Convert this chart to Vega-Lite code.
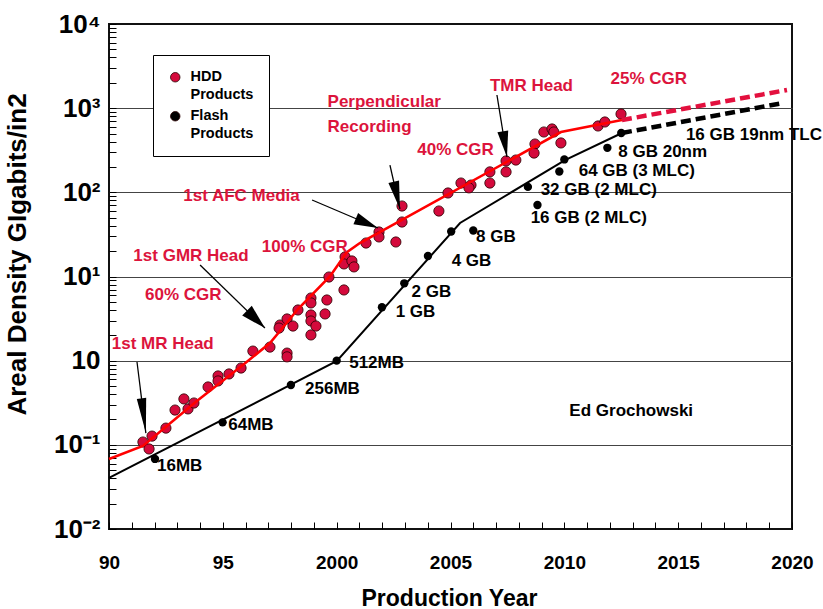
{
  "$schema": "https://vega.github.io/schema/vega-lite/v6.json",
  "width": 683,
  "height": 505,
  "autosize": {"type": "none"},
  "padding": {"left": 109, "top": 24, "right": 31, "bottom": 80},
  "background": "white",
  "config": {
    "font": "Liberation Sans",
    "view": {"stroke": "#111", "strokeWidth": 2}
  },
  "datasets": {
    "hdd": [
      {"year": 1991.49, "value": 0.108, "series": "HDD"},
      {"year": 1991.76, "value": 0.0893, "series": "HDD"},
      {"year": 1991.89, "value": 0.127, "series": "HDD"},
      {"year": 1992.5, "value": 0.158, "series": "HDD"},
      {"year": 1992.9, "value": 0.259, "series": "HDD"},
      {"year": 1993.29, "value": 0.351, "series": "HDD"},
      {"year": 1993.47, "value": 0.267, "series": "HDD"},
      {"year": 1993.73, "value": 0.314, "series": "HDD"},
      {"year": 1994.35, "value": 0.487, "series": "HDD"},
      {"year": 1994.79, "value": 0.658, "series": "HDD"},
      {"year": 1994.79, "value": 0.574, "series": "HDD"},
      {"year": 1995.27, "value": 0.695, "series": "HDD"},
      {"year": 1995.8, "value": 0.818, "series": "HDD"},
      {"year": 1996.32, "value": 1.3, "series": "HDD"},
      {"year": 1997.07, "value": 1.45, "series": "HDD"},
      {"year": 1997.82, "value": 1.23, "series": "HDD"},
      {"year": 1997.82, "value": 1.11, "series": "HDD"},
      {"year": 1997.51, "value": 2.65, "series": "HDD"},
      {"year": 1997.47, "value": 2.44, "series": "HDD"},
      {"year": 1997.82, "value": 3.13, "series": "HDD"},
      {"year": 1998.08, "value": 2.58, "series": "HDD"},
      {"year": 1998.3, "value": 4.0, "series": "HDD"},
      {"year": 1998.87, "value": 5.55, "series": "HDD"},
      {"year": 1998.87, "value": 4.85, "series": "HDD"},
      {"year": 1998.87, "value": 3.49, "series": "HDD"},
      {"year": 1998.87, "value": 2.96, "series": "HDD"},
      {"year": 1999.09, "value": 2.58, "series": "HDD"},
      {"year": 1998.87, "value": 2.02, "series": "HDD"},
      {"year": 1999.49, "value": 3.59, "series": "HDD"},
      {"year": 1999.57, "value": 5.26, "series": "HDD"},
      {"year": 1999.66, "value": 9.86, "series": "HDD"},
      {"year": 2000.32, "value": 6.92, "series": "HDD"},
      {"year": 2000.37, "value": 17.1, "series": "HDD"},
      {"year": 2000.32, "value": 14.1, "series": "HDD"},
      {"year": 2000.67, "value": 15.3, "series": "HDD"},
      {"year": 2000.76, "value": 13.0, "series": "HDD"},
      {"year": 2001.29, "value": 25.0, "series": "HDD"},
      {"year": 2001.86, "value": 33.8, "series": "HDD"},
      {"year": 2001.86, "value": 29.5, "series": "HDD"},
      {"year": 2002.6, "value": 25.7, "series": "HDD"},
      {"year": 2002.87, "value": 68.8, "series": "HDD"},
      {"year": 2002.87, "value": 44.4, "series": "HDD"},
      {"year": 2004.49, "value": 60.0, "series": "HDD"},
      {"year": 2004.89, "value": 98.2, "series": "HDD"},
      {"year": 2005.46, "value": 129, "series": "HDD"},
      {"year": 2005.9, "value": 122, "series": "HDD"},
      {"year": 2005.81, "value": 113, "series": "HDD"},
      {"year": 2006.73, "value": 175, "series": "HDD"},
      {"year": 2006.73, "value": 129, "series": "HDD"},
      {"year": 2007.44, "value": 236, "series": "HDD"},
      {"year": 2007.44, "value": 175, "series": "HDD"},
      {"year": 2007.87, "value": 242, "series": "HDD"},
      {"year": 2008.71, "value": 375, "series": "HDD"},
      {"year": 2008.67, "value": 293, "series": "HDD"},
      {"year": 2009.1, "value": 521, "series": "HDD"},
      {"year": 2009.46, "value": 566, "series": "HDD"},
      {"year": 2009.54, "value": 521, "series": "HDD"},
      {"year": 2009.85, "value": 386, "series": "HDD"},
      {"year": 2011.48, "value": 614, "series": "HDD"},
      {"year": 2011.78, "value": 685, "series": "HDD"},
      {"year": 2012.49, "value": 853, "series": "HDD"}
    ],
    "flash": [
      {"year": 1992.02, "value": 0.068, "series": "Flash"},
      {"year": 1994.99, "value": 0.185, "series": "Flash"},
      {"year": 1997.99, "value": 0.514, "series": "Flash"},
      {"year": 2000.0, "value": 1.0, "series": "Flash"},
      {"year": 2001.99, "value": 4.31, "series": "Flash"},
      {"year": 2002.97, "value": 8.3, "series": "Flash"},
      {"year": 2004.01, "value": 17.5, "series": "Flash"},
      {"year": 2005.03, "value": 34.3, "series": "Flash"},
      {"year": 2006.0, "value": 35.2, "series": "Flash"},
      {"year": 2008.4, "value": 116, "series": "Flash"},
      {"year": 2008.82, "value": 70.7, "series": "Flash"},
      {"year": 2010.0, "value": 246, "series": "Flash"},
      {"year": 2009.78, "value": 177, "series": "Flash"},
      {"year": 2011.89, "value": 338, "series": "Flash"},
      {"year": 2012.5, "value": 507, "series": "Flash"}
    ],
    "hddTrend": [
      {"year": 1990, "value": 0.0679},
      {"year": 1991.49, "value": 0.0969},
      {"year": 1993.86, "value": 0.332},
      {"year": 1995.88, "value": 0.889},
      {"year": 1997.07, "value": 1.62},
      {"year": 1997.51, "value": 2.25},
      {"year": 1998.3, "value": 4.11},
      {"year": 1999.71, "value": 10.1},
      {"year": 2000.45, "value": 19.5},
      {"year": 2001.02, "value": 25.0},
      {"year": 2009.85, "value": 521},
      {"year": 2012.53, "value": 723}
    ],
    "hddProj": [
      {"year": 2012.53, "value": 723},
      {"year": 2019.78, "value": 1643}
    ],
    "flashTrend": [
      {"year": 1990, "value": 0.0404},
      {"year": 2000.01, "value": 0.991},
      {"year": 2005.42, "value": 43.2},
      {"year": 2010.03, "value": 242},
      {"year": 2012.53, "value": 507}
    ],
    "flashProj": [
      {"year": 2012.53, "value": 507},
      {"year": 2019.6, "value": 1152}
    ],
    "redLabels": [
      {"year": 1990.12, "value": 1.567, "label": "1st MR Head"},
      {"year": 1991.58, "value": 6.03, "label": "60% CGR"},
      {"year": 1991.07, "value": 17.5, "label": "1st GMR Head"},
      {"year": 1996.71, "value": 22.2, "label": "100% CGR"},
      {"year": 1993.26, "value": 90.5, "label": "1st AFC Media"},
      {"year": 1999.6, "value": 1194, "label": "Perpendicular"},
      {"year": 1999.6, "value": 593, "label": "Recording"},
      {"year": 2003.54, "value": 318, "label": "40% CGR"},
      {"year": 2006.73, "value": 1834, "label": "TMR Head"},
      {"year": 2012.03, "value": 2200, "label": "25% CGR"}
    ],
    "blackLabels": [
      {"year": 1992.11, "value": 0.0561, "label": "16MB"},
      {"year": 1995.24, "value": 0.172, "label": "64MB"},
      {"year": 1998.61, "value": 0.457, "label": "256MB"},
      {"year": 2000.55, "value": 0.931, "label": "512MB"},
      {"year": 2002.59, "value": 3.82, "label": "1 GB"},
      {"year": 2003.29, "value": 6.6, "label": "2 GB"},
      {"year": 2005.05, "value": 15.3, "label": "4 GB"},
      {"year": 2006.12, "value": 29.7, "label": "8 GB"},
      {"year": 2008.52, "value": 49.2, "label": "16 GB (2 MLC)"},
      {"year": 2008.96, "value": 107, "label": "32 GB (2 MLC)"},
      {"year": 2010.63, "value": 181, "label": "64 GB (3 MLC)"},
      {"year": 2012.37, "value": 299, "label": "8 GB 20nm"},
      {"year": 2015.34, "value": 486, "label": "16 GB 19nm TLC"},
      {"year": 2010.22, "value": 0.255, "label": "Ed Grochowski"}
    ],
    "arrows": [
      {"id": "mr", "year": 1991.62, "value": 0.138, "year2": 1991.23, "value2": 0.964},
      {"id": "gmr", "year": 1996.85, "value": 2.44, "year2": 1994.0, "value2": 13.7},
      {"id": "afc", "year": 2001.81, "value": 37.7, "year2": 1998.92, "value2": 81.1},
      {"id": "perp", "year": 2002.78, "value": 63.4, "year2": 2002.34, "value2": 211},
      {"id": "tmr", "year": 2007.48, "value": 263, "year2": 2007.04, "value2": 1433}
    ]
  },
  "encoding": {
    "x": {
      "field": "year",
      "type": "quantitative",
      "scale": {"domain": [1990, 2020], "nice": false, "zero": false},
      "axis": {
        "values": [1990,1991,1992,1993,1994,1995,1996,1997,1998,1999,2000,2001,2002,2003,2004,2005,2006,2007,2008,2009,2010,2011,2012,2013,2014,2015,2016,2017,2018,2019,2020],
        "labelExpr": "datum.value == 1990 ? '90' : datum.value == 1995 ? '95' : (datum.value % 5 == 0 ? '' + datum.value : '')",
        "labelFont": "Liberation Sans",
        "labelFontSize": 19,
        "labelFontWeight": "bold",
        "labelColor": "black",
        "labelOverlap": false,
        "labelFlush": false,
        "labelBaseline": "middle",
        "labelPadding": 33,
        "offset": -7,
        "ticks": true,
        "tickSize": 7,
        "tickColor": "black",
        "tickWidth": 1,
        "domain": false,
        "grid": false,
        "title": "Production Year",
        "titleFont": "Liberation Sans",
        "titleFontSize": 23,
        "titleFontWeight": "bold",
        "titleColor": "black",
        "titleX": 340,
        "titleY": 76,
        "titleBaseline": "middle",
        "titleAlign": "center"
      }
    },
    "y": {
      "field": "value",
      "type": "quantitative",
      "scale": {"type": "log", "domain": [0.01, 10000], "nice": false},
      "axis": {
        "values": [0.01,0.02,0.03,0.04,0.05,0.06,0.07,0.08,0.09,0.1,0.2,0.3,0.4,0.5,0.6,0.7,0.8,0.9,1,2,3,4,5,6,7,8,9,10,20,30,40,50,60,70,80,90,100,200,300,400,500,600,700,800,900,1000,2000,3000,4000,5000,6000,7000,8000,9000,10000],
        "labelExpr": "datum.value == 10000 ? '10⁴' : datum.value == 1000 ? '10³' : datum.value == 100 ? '10²' : datum.value == 10 ? '10¹' : datum.value == 1 ? '10' : datum.value == 0.1 ? '10⁻¹' : datum.value == 0.01 ? '10⁻²' : ''",
        "labelFont": "Liberation Sans",
        "labelFontSize": 26,
        "labelFontWeight": "bold",
        "labelColor": "black",
        "labelOverlap": false,
        "labelFlush": false,
        "labelBaseline": "middle",
        "labelPadding": 9,
        "offset": -7,
        "ticks": true,
        "tickSize": 7,
        "tickColor": "black",
        "tickWidth": 1,
        "domain": false,
        "grid": true,
        "gridColor": {"condition": {"test": "indexof([0.1,1,10,100,1000], datum.value) >= 0", "value": "#444"}, "value": "rgba(0,0,0,0)"},
        "gridWidth": 1.2,
        "title": "Areal Density GIgabits/in2",
        "titleFont": "Liberation Sans",
        "titleFontSize": 26,
        "titleFontWeight": "bold",
        "titleColor": "black",
        "titleAngle": -90,
        "titleX": -99,
        "titleY": 230,
        "titleBaseline": "middle",
        "titleAlign": "center"
      }
    }
  },
  "layer": [
    {
      "data": {"name": "hdd"},
      "mark": {"type": "point", "shape": "circle", "filled": true, "opacity": 1, "size": 105, "stroke": "#2a0000", "strokeWidth": 0.8},
      "encoding": {
        "color": {
          "field": "series",
          "type": "nominal",
          "scale": {"domain": ["HDD", "Flash"], "range": ["#D40A3C", "#000000"]},
          "legend": {
            "orient": "none",
            "legendX": 44,
            "legendY": 31,
            "title": null,
            "direction": "vertical",
            "padding": 15,
            "strokeColor": "black",
            "fillColor": "white",
            "symbolType": "circle",
            "symbolSize": 90,
            "symbolOpacity": 1,
            "symbolStrokeColor": "#2a0000",
            "symbolStrokeWidth": 0.8,
            "labelFont": "Liberation Sans",
            "labelFontSize": 14.5,
            "labelFontWeight": "bold",
            "labelColor": "black",
            "labelOffset": 8,
            "rowPadding": 6,
            "labelExpr": "datum.label == 'HDD' ? ['HDD', 'Products'] : ['Flash', 'Products']",
            "encode": {"labels": {"update": {"lineHeight": {"value": 18}}}}
          }
        }
      }
    },
    {
      "data": {"name": "flash"},
      "mark": {"type": "point", "shape": "circle", "filled": true, "opacity": 1, "size": 70},
      "encoding": {
        "color": {"field": "series", "type": "nominal"}
      }
    },
    {
      "data": {"name": "hddTrend"},
      "mark": {"type": "line", "color": "#FF0000", "strokeWidth": 2.6},
      "encoding": {}
    },
    {
      "data": {"name": "hddProj"},
      "mark": {"type": "line", "color": "#E3103E", "strokeWidth": 4.5, "strokeDash": [10, 5]},
      "encoding": {}
    },
    {
      "data": {"name": "flashTrend"},
      "mark": {"type": "line", "color": "#000000", "strokeWidth": 2},
      "encoding": {}
    },
    {
      "data": {"name": "flashProj"},
      "mark": {"type": "line", "color": "#000000", "strokeWidth": 4.5, "strokeDash": [10, 5]},
      "encoding": {}
    },
    {
      "data": {"name": "arrows"},
      "mark": {"type": "rule", "color": "black", "strokeWidth": 1.3},
      "encoding": {
        "x2": {"field": "year2"},
        "y2": {"field": "value2"}
      }
    },
    {
      "data": {"name": "arrows"},
      "transform": [{"filter": "datum.id == 'mr'"}],
      "mark": {"type": "point", "filled": true, "opacity": 1, "color": "black", "shape": "M0,0 L0.27,2 L-0.27,2 Z", "size": 1225, "angle": 172.8}
    },
    {
      "data": {"name": "arrows"},
      "transform": [{"filter": "datum.id == 'gmr'"}],
      "mark": {"type": "point", "filled": true, "opacity": 1, "color": "black", "shape": "M0,0 L0.55,2 L-0.55,2 Z", "size": 625, "angle": 134.1}
    },
    {
      "data": {"name": "arrows"},
      "transform": [{"filter": "datum.id == 'afc'"}],
      "mark": {"type": "point", "filled": true, "opacity": 1, "color": "black", "shape": "M0,0 L0.5,2 L-0.5,2 Z", "size": 576, "angle": 113.0}
    },
    {
      "data": {"name": "arrows"},
      "transform": [{"filter": "datum.id == 'perp'"}],
      "mark": {"type": "point", "filled": true, "opacity": 1, "color": "black", "shape": "M0,0 L0.39,2 L-0.39,2 Z", "size": 784, "angle": 167.2}
    },
    {
      "data": {"name": "arrows"},
      "transform": [{"filter": "datum.id == 'tmr'"}],
      "mark": {"type": "point", "filled": true, "opacity": 1, "color": "black", "shape": "M0,0 L0.42,2 L-0.42,2 Z", "size": 676, "angle": 170.8}
    },
    {
      "data": {"name": "redLabels"},
      "mark": {"type": "text", "align": "left", "baseline": "middle", "font": "Liberation Sans", "fontSize": 17, "fontWeight": "bold", "color": "#DC143C"},
      "encoding": {"text": {"field": "label"}}
    },
    {
      "data": {"name": "blackLabels"},
      "mark": {"type": "text", "align": "left", "baseline": "middle", "font": "Liberation Sans", "fontSize": 17, "fontWeight": "bold", "color": "black"},
      "encoding": {"text": {"field": "label"}}
    }
  ]
}
